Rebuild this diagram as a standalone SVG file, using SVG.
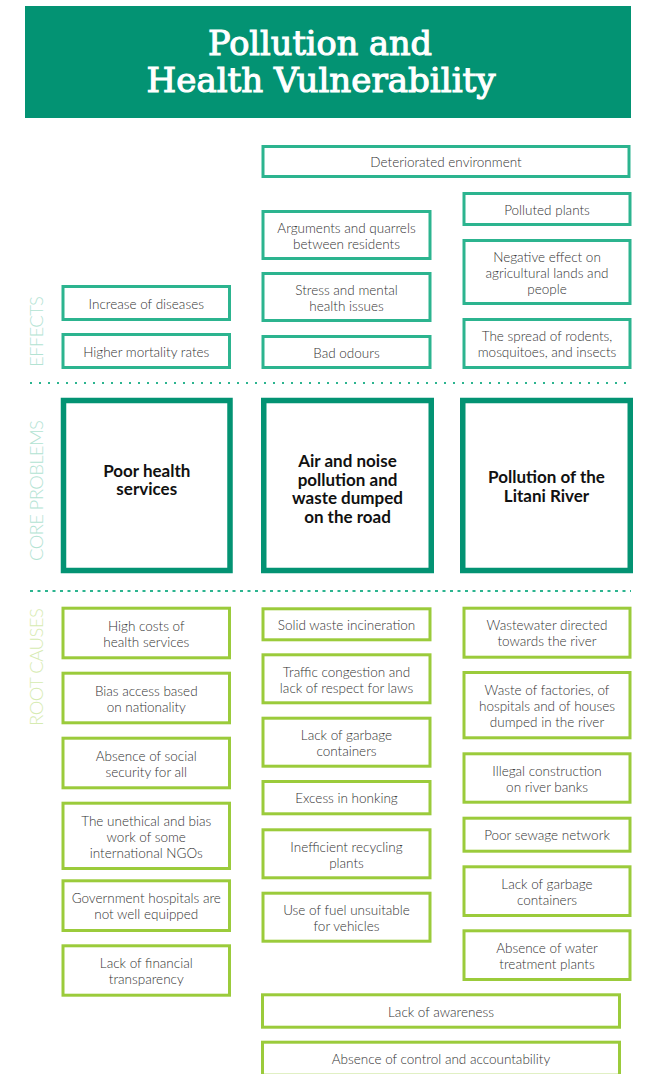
<svg xmlns="http://www.w3.org/2000/svg" width="651" height="1074" viewBox="0 0 651 1074">
<style>
.bg{fill:#ffffff}
.title{font-family:"DejaVu Serif",serif;font-size:33px;fill:#ffffff;stroke:#ffffff;stroke-width:1.1;text-anchor:middle}
.eff{fill:#ffffff;stroke:#2cb48f;stroke-width:3}
.core{fill:#ffffff;stroke:#039373;stroke-width:5.5}
.root{fill:#ffffff;stroke:#9bcb3b;stroke-width:3}
.t{font-family:Lato,"Liberation Sans",sans-serif;font-weight:300;font-size:13.5px;fill:#333333;text-anchor:middle}
.ct{font-family:Lato,"Liberation Sans",sans-serif;font-weight:700;font-size:17px;fill:#111111;text-anchor:middle}
.lbl{font-family:Lato,"Liberation Sans",sans-serif;font-weight:300;font-size:18.5px;text-anchor:middle}
.sep{stroke:#2cb48f;stroke-width:2;fill:none}
</style>
<rect class="bg" x="0" y="0" width="651" height="1074"/>
<g id="header">
<rect x="25" y="6" width="606" height="112" fill="#039373"/>
<text class="title" x="320" y="55" textLength="224" lengthAdjust="spacingAndGlyphs">Pollution and</text>
<text class="title" x="321" y="92" textLength="349" lengthAdjust="spacingAndGlyphs">Health Vulnerability</text>
</g>
<g id="section-labels">
<text class="lbl" fill="#b3e3d3" transform="translate(42.5,331.5) rotate(-90)" textLength="71" lengthAdjust="spacing">EFFECTS</text>
<text class="lbl" fill="#b3e3d3" transform="translate(42.5,490.5) rotate(-90)" textLength="141" lengthAdjust="spacing">CORE PROBLEMS</text>
<text class="lbl" fill="#d6ebb1" transform="translate(42.5,667) rotate(-90)" textLength="118" lengthAdjust="spacing">ROOT CAUSES</text>
</g>
<g id="connectors">
<line class="sep" x1="30" y1="383" x2="631" y2="383" stroke-dasharray="2 7"/>
<line class="sep" x1="30" y1="591" x2="631" y2="591" stroke-dasharray="3 4.5"/>
</g>
<!-- EFFECTS -->
<g id="e-deteriorated"><rect class="eff" x="263" y="146.5" width="366" height="30"/><text class="t" x="446" y="167">Deteriorated environment</text></g>
<g id="e-polluted-plants"><rect class="eff" x="464" y="193.5" width="166" height="31"/><text class="t" x="547" y="214.5">Polluted plants</text></g>
<g id="e-arguments"><rect class="eff" x="263" y="211.5" width="167" height="47"/><text class="t" x="346.5" y="232.7">Arguments and quarrels</text><text class="t" x="346.5" y="248.7">between residents</text></g>
<g id="e-negative"><rect class="eff" x="464" y="240.5" width="166" height="63"/><text class="t" x="547" y="261.7">Negative effect on</text><text class="t" x="547" y="277.7">agricultural lands and</text><text class="t" x="547" y="293.7">people</text></g>
<g id="e-diseases"><rect class="eff" x="63" y="286.5" width="166.5" height="33"/><text class="t" x="146.25" y="308.7">Increase of diseases</text></g>
<g id="e-stress"><rect class="eff" x="263" y="273.5" width="167" height="47"/><text class="t" x="346.5" y="294.7">Stress and mental</text><text class="t" x="346.5" y="310.7">health issues</text></g>
<g id="e-spread"><rect class="eff" x="464" y="319.5" width="166" height="48"/><text class="t" x="547" y="341.2">The spread of rodents,</text><text class="t" x="547" y="357.2">mosquitoes, and insects</text></g>
<g id="e-mortality"><rect class="eff" x="63" y="334.5" width="166.5" height="33"/><text class="t" x="146.25" y="356.7">Higher mortality rates</text></g>
<g id="e-odours"><rect class="eff" x="263" y="336.5" width="167" height="31"/><text class="t" x="346.5" y="357.7">Bad odours</text></g>
<!-- CORE PROBLEMS -->
<g id="c-health"><rect class="core" x="63.5" y="400.5" width="166.5" height="170"/><text class="ct" x="146.75" y="476.7">Poor health</text><text class="ct" x="146.75" y="495">services</text></g>
<g id="c-air"><rect class="core" x="263.75" y="400.5" width="167.5" height="170"/><text class="ct" x="347.5" y="467.3">Air and noise</text><text class="ct" x="347.5" y="485.8">pollution and</text><text class="ct" x="347.5" y="504.3">waste dumped</text><text class="ct" x="347.5" y="522.7">on the road</text></g>
<g id="c-litani"><rect class="core" x="462.75" y="400.5" width="167.5" height="170"/><text class="ct" x="546.5" y="483.3">Pollution of the</text><text class="ct" x="546.5" y="501.7">Litani River</text></g>
<!-- ROOT CAUSES left -->
<g id="r-costs"><rect class="root" x="63" y="608.2" width="166.5" height="49.6"/><text class="t" x="146.25" y="630.7">High costs of</text><text class="t" x="146.25" y="646.7">health services</text></g>
<g id="r-bias"><rect class="root" x="63" y="673.2" width="166.5" height="49.6"/><text class="t" x="146.25" y="695.7">Bias access based</text><text class="t" x="146.25" y="711.7">on nationality</text></g>
<g id="r-social"><rect class="root" x="63" y="738.2" width="166.5" height="49.6"/><text class="t" x="146.25" y="760.7">Absence of social</text><text class="t" x="146.25" y="776.7">security for all</text></g>
<g id="r-ngos"><rect class="root" x="63" y="803.2" width="166.5" height="65.3"/><text class="t" x="146.25" y="825.5">The unethical and bias</text><text class="t" x="146.25" y="841.5">work of some</text><text class="t" x="146.25" y="857.5">international NGOs</text></g>
<g id="r-hospitals"><rect class="root" x="63" y="880.8" width="166.5" height="49.7"/><text class="t" x="146.25" y="903.3">Government hospitals are</text><text class="t" x="146.25" y="919.3">not well equipped</text></g>
<g id="r-transparency"><rect class="root" x="63" y="945.8" width="166.5" height="49.4"/><text class="t" x="146.25" y="968.2">Lack of financial</text><text class="t" x="146.25" y="984.2">transparency</text></g>
<!-- ROOT CAUSES middle -->
<g id="r-incineration"><rect class="root" x="263" y="608.8" width="167" height="31"/><text class="t" x="346.5" y="630">Solid waste incineration</text></g>
<g id="r-traffic"><rect class="root" x="263" y="654.8" width="167" height="48"/><text class="t" x="346.5" y="676.5">Traffic congestion and</text><text class="t" x="346.5" y="692.5">lack of respect for laws</text></g>
<g id="r-garbage-road"><rect class="root" x="263" y="718.2" width="167" height="48"/><text class="t" x="346.5" y="739.9">Lack of garbage</text><text class="t" x="346.5" y="755.9">containers</text></g>
<g id="r-honking"><rect class="root" x="263" y="781.5" width="167" height="32.3"/><text class="t" x="346.5" y="803.3">Excess in honking</text></g>
<g id="r-recycling"><rect class="root" x="263" y="829.8" width="167" height="48"/><text class="t" x="346.5" y="851.5">Inefficient recycling</text><text class="t" x="346.5" y="867.5">plants</text></g>
<g id="r-fuel"><rect class="root" x="263" y="893.2" width="167" height="48"/><text class="t" x="346.5" y="914.9">Use of fuel unsuitable</text><text class="t" x="346.5" y="930.9">for vehicles</text></g>
<!-- ROOT CAUSES right -->
<g id="r-wastewater"><rect class="root" x="464" y="608.2" width="166" height="49"/><text class="t" x="547" y="630.4">Wastewater directed</text><text class="t" x="547" y="646.4">towards the river</text></g>
<g id="r-factories"><rect class="root" x="464" y="672.5" width="166" height="65.3"/><text class="t" x="547" y="694.8">Waste of factories, of</text><text class="t" x="547" y="710.8">hospitals and of houses</text><text class="t" x="547" y="726.8">dumped in the river</text></g>
<g id="r-construction"><rect class="root" x="464" y="753.8" width="166" height="48.4"/><text class="t" x="547" y="775.7">Illegal construction</text><text class="t" x="547" y="791.7">on river banks</text></g>
<g id="r-sewage"><rect class="root" x="464" y="818.2" width="166" height="33"/><text class="t" x="547" y="840.4">Poor sewage network</text></g>
<g id="r-garbage-river"><rect class="root" x="464" y="866.8" width="166" height="48.7"/><text class="t" x="547" y="888.8">Lack of garbage</text><text class="t" x="547" y="904.8">containers</text></g>
<g id="r-treatment"><rect class="root" x="464" y="930.8" width="166" height="48.7"/><text class="t" x="547" y="952.8">Absence of water</text><text class="t" x="547" y="968.8">treatment plants</text></g>
<!-- ROOT CAUSES bottom -->
<g id="r-awareness"><rect class="root" x="262.5" y="994.8" width="357" height="32.4"/><text class="t" x="441" y="1016.7">Lack of awareness</text></g>
<g id="r-accountability"><rect class="root" x="262.5" y="1042.2" width="357" height="33"/><text class="t" x="441" y="1064.4">Absence of control and accountability</text></g>
</svg>
